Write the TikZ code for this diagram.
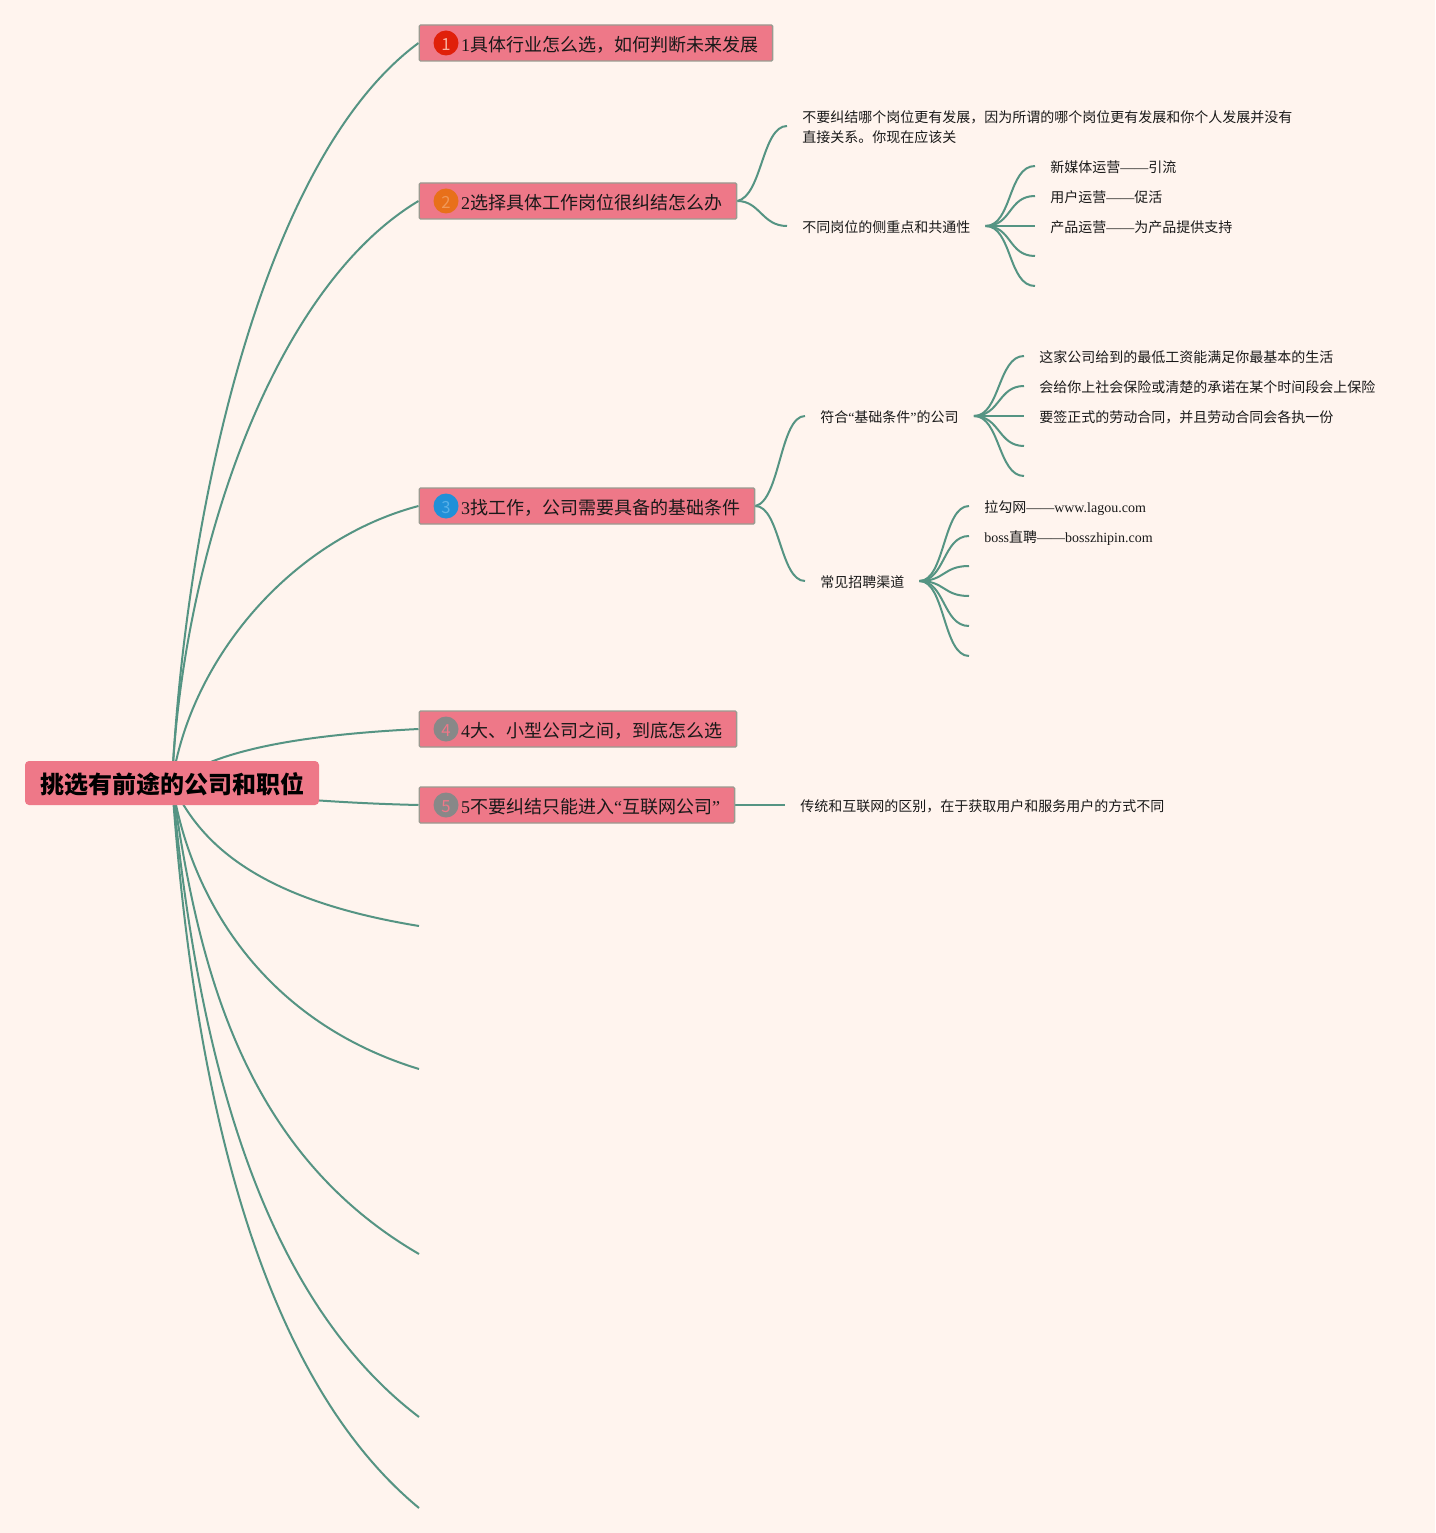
\documentclass[tikz,border=0pt]{standalone}
\usepackage{fontspec}
\setmainfont{Liberation Serif}
\newfontfamily\cjk{Noto Sans CJK SC}
\newcommand{\C}[1]{{\cjk #1}}
\usetikzlibrary{backgrounds}
\definecolor{bgc}{HTML}{FFF4EE}
\definecolor{boxc}{HTML}{EE7888}
\definecolor{edgec}{HTML}{9A9A90}
\definecolor{linec}{HTML}{559483}
\definecolor{bred}{HTML}{E0200A}
\definecolor{bredt}{HTML}{F8B0A0}
\definecolor{borange}{HTML}{E8701A}
\definecolor{boranget}{HTML}{F09858}
\definecolor{bblue}{HTML}{2090D8}
\definecolor{bbluet}{HTML}{58B0E8}
\definecolor{bgray}{HTML}{888888}
\tikzset{
  conn/.style={draw=linec,line width=1.5pt},
  rootbox/.style={fill=boxc,rounded corners=3pt,minimum width=294*0.75pt,minimum height=44*0.75pt,inner sep=0pt,text height=18pt,text depth=2.1pt,font=\fontsize{18pt}{22pt}\selectfont\bfseries,text=black},
  pbox/.style={fill=boxc,draw=edgec,line width=1pt,rounded corners=1pt,minimum height=36*0.75pt,inner xsep=14.5*0.75pt,inner ysep=0pt,anchor=west,text height=13.5pt,text depth=1pt,font=\fontsize{13.5pt}{16pt}\selectfont,text=black!90},
  badge/.style={circle,inner sep=0pt,minimum size=25*0.75pt,text height=11.5pt,text depth=0pt,font=\fontsize{12.5pt}{15pt}\selectfont},
  sub/.style={anchor=west,inner xsep=15*0.75pt,inner ysep=0pt,text height=11.2pt,text depth=1.1pt,font=\fontsize{10.5pt}{15pt}\selectfont,text=black!90},
  subm/.style={anchor=west,inner xsep=15*0.75pt,inner ysep=0pt,align=left,font=\fontsize{10.5pt}{15pt}\selectfont,text=black!90},
}
\newcommand{\pad}{\hspace*{20.6pt}}
\begin{document}
\begin{tikzpicture}[x=0.75pt,y=-0.75pt]
\useasboundingbox (0,0) rectangle (1435,1533);
% root
\node[rootbox] (root) at (172,783) {\C{挑选有前途的公司和职位}};
% primary
\node[pbox] (p1) at (418.5,43) {\pad 1\C{具体行业怎么选，如何判断未来发展}};
\node[pbox] (p2) at (418.5,201) {\pad 2\C{选择具体工作岗位很纠结怎么办}};
\node[pbox] (p3) at (418.5,506) {\pad 3\C{找工作，公司需要具备的基础条件}};
\node[pbox] (p4) at (418.5,729) {\pad 4\C{大、小型公司之间，到底怎么选}};
\node[pbox] (p5) at (418.5,805) {\pad 5\C{不要纠结只能进入}“\C{互联网公司}”};
\node[badge,fill=bred,text=bredt] (b1) at (446,43) {\C{1}};
\node[badge,fill=borange,text=boranget] (b2) at (446,201) {\C{2}};
\node[badge,fill=bblue,text=bbluet] (b3) at (446,506) {\C{3}};
\node[badge,fill=bgray,text=boxc] (b4) at (446,729) {\C{4}};
\node[badge,fill=bgray,text=boxc] (b5) at (446,805) {\C{5}};
% level 2
\node[subm] (s1) at (787,127) {\C{不要纠结哪个岗位更有发展，因为所谓的哪个岗位更有发展和你个人发展并没有}\\\C{直接关系。你现在应该关}};
\node[sub] (s2) at (787,226) {\C{不同岗位的侧重点和共通性}};
\node[sub] (s3) at (805,416) {\C{符合}“\C{基础条件}”\C{的公司}};
\node[sub] (s4) at (805,581) {\C{常见招聘渠道}};
\node[sub] (s5) at (785,805) {\C{传统和互联网的区别，在于获取用户和服务用户的方式不同}};
% level 3
\node[sub] (a1) at (1035,166) {\C{新媒体运营}——\C{引流}};
\node[sub] (a2) at (1035,196) {\C{用户运营}——\C{促活}};
\node[sub] (a3) at (1035,226) {\C{产品运营}——\C{为产品提供支持}};
\coordinate (a4) at (1035,256);
\coordinate (a5) at (1035,286);
\node[sub] (c1) at (1024,356) {\C{这家公司给到的最低工资能满足你最基本的生活}};
\node[sub] (c2) at (1024,386) {\C{会给你上社会保险或清楚的承诺在某个时间段会上保险}};
\node[sub] (c3) at (1024,416) {\C{要签正式的劳动合同，并且劳动合同会各执一份}};
\coordinate (c4) at (1024,446);
\coordinate (c5) at (1024,476);
\node[sub] (d1) at (969,506) {\C{拉勾网}——www.lagou.com};
\node[sub] (d2) at (969,536) {boss\C{直聘}——bosszhipin.com};
\coordinate (d3) at (969,566);
\coordinate (d4) at (969,596);
\coordinate (d5) at (969,626);
\coordinate (d6) at (969,656);
% free ends
\coordinate (e6) at (419,926);
\coordinate (e7) at (419,1069);
\coordinate (e8) at (419,1254);
\coordinate (e9) at (419,1417);
\coordinate (e10) at (419,1508);
\begin{scope}[on background layer]
\fill[bgc] (0,0) rectangle (1435,1533);
\draw[conn] (root.center) .. controls (185,520) and (260,160) .. (p1.west);
\draw[conn] (root.center) .. controls (182,560) and (270,290) .. (p2.west);
\draw[conn] (root.center) .. controls (190,660) and (290,540) .. (p3.west);
\draw[conn] (root.center) .. controls (215,750) and (300,735) .. (p4.west);
\draw[conn] (root.center) .. controls (230,795) and (330,803) .. (p5.west);
\draw[conn] (root.center) .. controls (200,845) and (260,900) .. (e6);
\draw[conn] (root.center) .. controls (190,900) and (265,1022) .. (e7);
\draw[conn] (root.center) .. controls (197,960) and (240,1150) .. (e8);
\draw[conn] (root.center) .. controls (195,1030) and (252,1290) .. (e9);
\draw[conn] (root.center) .. controls (192,1070) and (252,1370) .. (e10);
\draw[conn] (p2.east) .. controls (762,196) and (762,126) .. ([yshift=0.75pt]s1.west);
\draw[conn] (p2.east) .. controls (760,201) and (762,226) .. (s2.west);
\draw[conn] (p3.east) .. controls (780,501) and (780,416) .. (s3.west);
\draw[conn] (p3.east) .. controls (780,506) and (780,581) .. (s4.west);
\draw[conn] (p5.east) -- (s5.west);
\draw[conn] (s2.east) .. controls (1012,226) and (1008,166) .. (a1.west);
\draw[conn] (s2.east) .. controls (1012,226) and (1008,196) .. (a2.west);
\draw[conn] (s2.east) -- (a3.west);
\draw[conn] (s2.east) .. controls (1012,226) and (1008,256) .. (a4);
\draw[conn] (s2.east) .. controls (1012,226) and (1008,286) .. (a5);
\draw[conn] (s3.east) .. controls (1000,416) and (998,356) .. (c1.west);
\draw[conn] (s3.east) .. controls (1000,416) and (998,386) .. (c2.west);
\draw[conn] (s3.east) -- (c3.west);
\draw[conn] (s3.east) .. controls (1000,416) and (998,446) .. (c4);
\draw[conn] (s3.east) .. controls (1000,416) and (998,476) .. (c5);
\draw[conn] (s4.east) .. controls (945,581) and (943,506) .. (d1.west);
\draw[conn] (s4.east) .. controls (945,581) and (943,536) .. (d2.west);
\draw[conn] (s4.east) .. controls (945,581) and (943,566) .. (d3);
\draw[conn] (s4.east) .. controls (945,581) and (943,596) .. (d4);
\draw[conn] (s4.east) .. controls (945,581) and (943,626) .. (d5);
\draw[conn] (s4.east) .. controls (945,581) and (943,656) .. (d6);
\end{scope}
\end{tikzpicture}
\end{document}
